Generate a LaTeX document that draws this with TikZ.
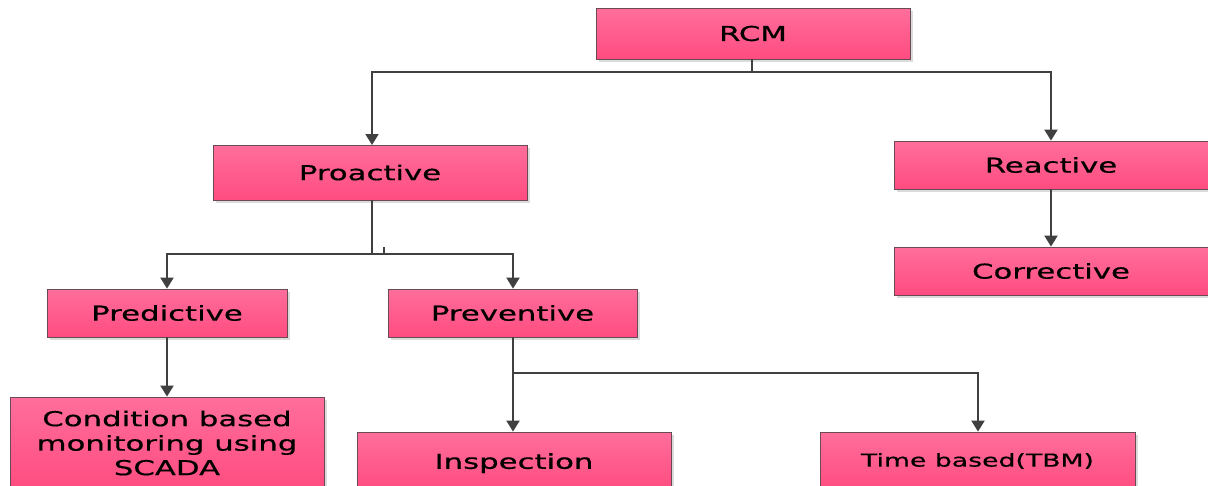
\documentclass[tikz,border=0pt]{standalone}
\usepackage{fontspec}
\newfontfamily\boxfont[FakeStretch=1.5,FakeBold=0.6]{DejaVu Sans}
\usetikzlibrary{arrows.meta,shadows}
\definecolor{pinktop}{HTML}{FF6E9C}
\definecolor{pinkbot}{HTML}{FF4C80}
\definecolor{edgegrey}{HTML}{6A4A55}
\definecolor{linegrey}{HTML}{404040}
\tikzset{
  box/.style={draw=edgegrey, line width=0.8pt, top color=pinktop, bottom color=pinkbot,
    minimum width=314pt, minimum height=50pt, inner sep=0pt, align=center,
    font=\boxfont\fontsize{20.5}{24.5}\selectfont, text=black,
    drop shadow={shadow xshift=3pt, shadow yshift=-3pt, fill=black!14, opacity=1}},
  conn/.style={draw=linegrey, line width=2pt},
  arr/.style={conn, -{Triangle[width=13pt,length=11pt]}}
}
\begin{document}
\begin{tikzpicture}[x=1pt,y=-1pt]
\useasboundingbox (0,0) rectangle (1208,485);
\clip (0,0) rectangle (1208,485);
\fill[white] (0,0) rectangle (1208,485);
% nodes
\node[box, minimum height=51pt] (rcm) at (753,33.5) {RCM};
\node[box, minimum height=55pt] (pro) at (370,172.5) {Proactive};
\node[box, minimum height=48pt] (rea) at (1051,165) {Reactive};
\node[box, minimum height=48pt] (cor) at (1051,271) {Corrective};
\node[box, minimum width=240pt, minimum height=48pt] (pred) at (167,313) {Predictive};
\node[box, minimum width=249pt, minimum height=48pt] (prev) at (512.5,313) {Preventive};
\node[box, minimum height=92pt] (cbm) at (167,443) {Condition based\\monitoring using\\SCADA};
\node[box, minimum height=58pt, text depth=0pt] (ins) at (514,461) {Inspection};
\node[box, minimum width=315pt, minimum height=58pt, font=\boxfont\fontsize{17.8}{20}\selectfont] (tbm) at (977.5,461) {Time based(TBM)};
% junction coordinates
\coordinate (j1) at (752,72);
\coordinate (j2) at (372,254);
\coordinate (j3) at (513,373);
\coordinate (tick) at (384,247);
% connectors
\draw[conn] (rcm.south -| j1) -- (j1);
\draw[arr] (j1) -| (372,145) coordinate (proin);
\draw[arr] (j1) -| (rea.north);
\draw[conn] (pro.south -| j2) -- (j2);
\draw[arr] (j2) -| (pred.north);
\draw[arr] (j2) -| (prev.north -| j3);
\draw[conn] (tick) -- (tick |- j2);
\draw[arr] (pred.south) -- (cbm.north);
\draw[arr] (prev.south -| j3) -- (ins.north -| j3);
\draw[arr] (j3) -| (tbm.north -| 978,0);
\draw[arr] (rea.south) -- (cor.north);
\end{tikzpicture}
\end{document}
